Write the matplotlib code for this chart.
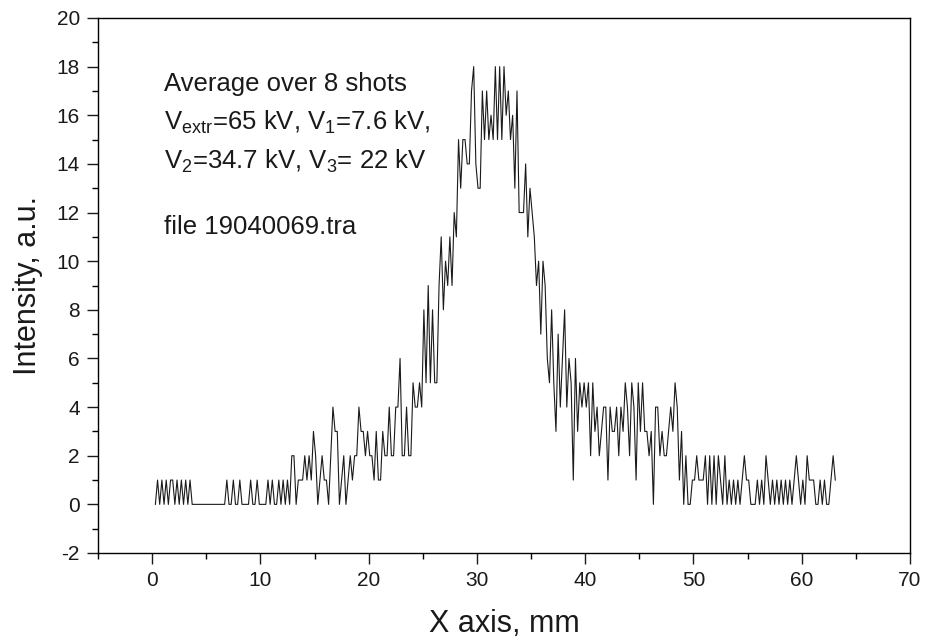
#!/usr/bin/env python3
"""Beam profile trace: intensity vs. X position, averaged over 8 shots."""

import matplotlib
matplotlib.use("Agg")
import matplotlib.pyplot as plt
import numpy as np
from matplotlib.ticker import MultipleLocator


# sampling grid of the trace (mm)
x_start = 0.3
x_step = 0.2

# intensity counts, one row per mm (x = k.3, k.5, k.7, k.9, (k+1).1)
intensity = [
    0, 1, 0, 1, 0,
    1, 0, 1, 1, 0,
    1, 0, 1, 0, 1,
    0, 1, 0, 0, 0,
    0, 0, 0, 0, 0,
    0, 0, 0, 0, 0,
    0, 0, 0, 1, 0,
    0, 1, 0, 0, 1,
    0, 0, 0, 0, 1,
    0, 0, 1, 0, 0,
    0, 0, 1, 0, 1,
    0, 0, 1, 0, 1,
    0, 1, 0, 2, 2,
    0, 1, 1, 1, 2,
    1, 2, 1, 3, 2,
    0, 1, 2, 1, 1,
    0, 2, 4, 3, 3,
    0, 1, 2, 0, 1,
    2, 1, 2, 2, 4,
    3, 3, 2, 3, 2,
    2, 1, 3, 1, 1,
    3, 2, 2, 4, 2,
    2, 4, 4, 6, 2,
    2, 4, 2, 2, 5,
    4, 4, 5, 4, 8,
    5, 9, 5, 8, 5,
    5, 9, 11, 8, 10,
    9, 11, 9, 12, 11,
    15, 13, 15, 15, 14,
    14, 17, 18, 14, 13,
    13, 17, 15, 17, 15,
    16, 15, 18, 15, 18,
    15, 18, 16, 17, 15,
    16, 13, 17, 12, 12,
    12, 14, 11, 13, 12,
    11, 9, 10, 7, 10,
    9, 6, 5, 8, 5,
    3, 7, 4, 6, 8,
    4, 6, 5, 1, 6,
    3, 5, 4, 5, 4,
    5, 2, 5, 3, 4,
    2, 3, 4, 4, 1,
    4, 3, 3, 4, 2,
    4, 3, 5, 4, 2,
    5, 4, 1, 5, 3,
    5, 3, 3, 2, 3,
    0, 4, 4, 2, 3,
    2, 2, 3, 4, 3,
    5, 4, 1, 3, 0,
    2, 0, 0, 1, 1,
    2, 1, 1, 1, 2,
    0, 2, 0, 2, 0,
    2, 1, 0, 2, 0,
    1, 0, 1, 0, 1,
    0, 1, 2, 1, 1,
    0, 0, 0, 1, 0,
    1, 0, 2, 1, 0,
    1, 0, 1, 0, 1,
    0, 1, 0, 1, 0,
    1, 2, 1, 0, 1,
    0, 2, 1, 1, 1,
    0, 0, 1, 0, 1,
    0, 0, 1, 2, 1,
]

x_ticks = [0, 10, 20, 30, 40, 50, 60, 70]
y_ticks = [-2, 0, 2, 4, 6, 8, 10, 12, 14, 16, 18, 20]

notes = [
    "Average over 8 shots",
    r"V$_{\mathrm{extr}}$=65 kV, V$_1$=7.6 kV,",
    r"V$_2$=34.7 kV, V$_3$= 22 kV",
    "file 19040069.tra",
]


def main() -> None:
    plt.rcParams.update({
        "font.family": ["Liberation Sans", "DejaVu Sans"],
        "mathtext.fontset": "custom",
        "mathtext.rm": "Liberation Sans",
        "mathtext.it": "Liberation Sans",
        "axes.linewidth": 1.0,
        "axes.unicode_minus": False,
    })

    x = x_start + x_step * np.arange(len(intensity))
    y = np.array(intensity, dtype=float)

    fig = plt.figure(figsize=(9.3, 6.43), dpi=100)
    ax = fig.add_axes([98 / 930, 90 / 643, 812 / 930, 535 / 643])
    ax.plot(x, y, color="#1a1a1a", linewidth=0.8)

    ax.set_xlim(-5, 70)
    ax.set_ylim(-2, 20)
    ax.set_xticks(x_ticks)
    ax.set_yticks(y_ticks)
    ax.xaxis.set_minor_locator(MultipleLocator(5))
    ax.yaxis.set_minor_locator(MultipleLocator(1))
    ax.tick_params(which="major", direction="out", length=8, width=1.0,
                   labelsize=15, pad=5, colors="#1a1a1a")
    ax.tick_params(which="minor", direction="out", length=4.5, width=1.0)
    ax.tick_params(top=False, right=False, which="both")

    ax.set_xlabel("X axis, mm", fontsize=22, labelpad=14, color="#1a1a1a")
    ax.set_ylabel("Intensity, a.u.", fontsize=22, labelpad=10, color="#1a1a1a")

    ypos = [16.98, 15.4, 13.8, 11.13]
    for txt, yy in zip(notes, ypos):
        ax.text(1.1, yy, txt, fontsize=18.5, color="#1a1a1a",
                va="baseline", ha="left")

    fig.savefig("out.png", dpi=100, facecolor="white")
    plt.close(fig)


if __name__ == "__main__":
    main()
